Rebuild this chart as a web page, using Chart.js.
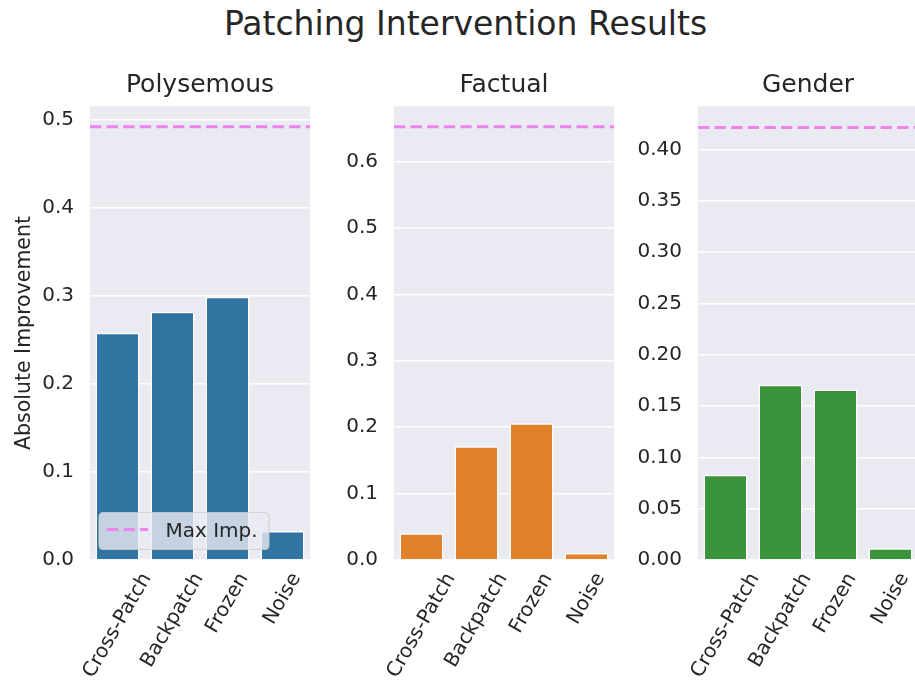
<!DOCTYPE html>
<html><head><meta charset="utf-8">
<script src="https://cdn.jsdelivr.net/npm/chart.js@4"></script>
<style>
html,body{margin:0;padding:0;background:#fff;overflow:hidden;width:915px;height:688px;position:relative}
#title{position:absolute;left:0;width:931px;top:5px;text-align:center;font-family:'DejaVu Sans';font-size:33px;line-height:38px;color:#262626;white-space:nowrap}
.pane{position:absolute;top:0;height:688px}
canvas{display:block}
</style></head><body>
<div id="title">Patching Intervention Results</div>
<div class="pane" style="left:0;width:320px"><canvas id="c1" width="320" height="688"></canvas></div>
<div class="pane" style="left:320px;width:300px"><canvas id="c2" width="300" height="688"></canvas></div>
<div class="pane" style="left:625px;width:300px"><canvas id="c3" width="300" height="688"></canvas></div>
<script>
const categories = ['Cross-Patch', 'Backpatch', 'Frozen', 'Noise'];
const panelTitles = ['Polysemous', 'Factual', 'Gender'];
const polysemousValues = [0.2583, 0.2822, 0.2992, 0.0330];
const factualValues = [0.0402, 0.1713, 0.2059, 0.0105];
const genderValues = [0.0830, 0.1708, 0.1662, 0.0115];
const maxImprovement = [0.4924, 0.6528, 0.4215];
const yMax = [0.5159, 0.684, 0.4425];
const polysemousTicks = [0.0, 0.1, 0.2, 0.3, 0.4, 0.5];
const polysemousTickLabels = ['0.0', '0.1', '0.2', '0.3', '0.4', '0.5'];
const factualTicks = [0.0, 0.1, 0.2, 0.3, 0.4, 0.5, 0.6];
const factualTickLabels = ['0.0', '0.1', '0.2', '0.3', '0.4', '0.5', '0.6'];
const genderTicks = [0.0, 0.05, 0.10, 0.15, 0.20, 0.25, 0.30, 0.35, 0.40];
const genderTickLabels = ['0.00', '0.05', '0.10', '0.15', '0.20', '0.25', '0.30', '0.35', '0.40'];
const yLabel = 'Absolute Improvement';
const legendLabel = 'Max Imp.';
const colors = ['#3274A1', '#E1812C', '#3A923A'];

const FONT = "'DejaVu Sans'";
const TXT = '#262626';

const panelPlugin = {
  id: 'panel',
  beforeDraw(chart) {
    const {ctx, chartArea: a} = chart;
    ctx.save();
    ctx.fillStyle = '#EAEAF2';
    ctx.fillRect(a.left, a.top, a.right - a.left, a.bottom - a.top);
    ctx.restore();
  },
  afterDatasetsDraw(chart, args, o) {
    const {ctx, chartArea: a} = chart;
    const ys = chart.scales.y, xs = chart.scales.x;
    ctx.save();
    // max line
    const my = ys.getPixelForValue(o.maxValue);
    ctx.strokeStyle = '#EE82EE';
    ctx.lineWidth = 3;
    ctx.setLineDash([11.3, 5.3]);
    ctx.beginPath();
    ctx.moveTo(a.left, my);
    ctx.lineTo(a.right, my);
    ctx.stroke();
    ctx.setLineDash([]);
    // subplot title
    ctx.fillStyle = TXT;
    ctx.font = '25px ' + FONT;
    ctx.textAlign = 'center';
    ctx.textBaseline = 'alphabetic';
    ctx.fillText(o.title, (a.left + a.right) / 2, 92);
    // x tick labels (rotated 60, bbox centered on tick)
    ctx.font = '20px ' + FONT;
    const H = 20 * 1.17;
    const s60 = Math.sin(Math.PI / 3), c60 = Math.cos(Math.PI / 3);
    chart.data.labels.forEach((lab, i) => {
      const x = xs.getPixelForValue(i);
      const L = ctx.measureText(lab).width;
      const bh = L * s60 + H * c60;
      const cy = a.bottom + 9 + bh / 2;
      ctx.save();
      ctx.translate(x, cy);
      ctx.rotate(-Math.PI / 3);
      ctx.textAlign = 'center';
      ctx.textBaseline = 'middle';
      ctx.fillText(lab, 0, 0);
      ctx.restore();
    });
    // y label
    if (o.ylabel) {
      ctx.save();
      ctx.translate(25, (a.top + a.bottom) / 2);
      ctx.rotate(-Math.PI / 2);
      ctx.font = '20.5px ' + FONT;
      ctx.textAlign = 'center';
      ctx.textBaseline = 'middle';
      ctx.fillText(o.ylabel, 0, 0);
      ctx.restore();
    }
    // legend
    if (o.legend) {
      const bx = 99, by = 512.5, bw = 170, bh2 = 37, r = 4;
      ctx.beginPath();
      ctx.moveTo(bx + r, by);
      ctx.arcTo(bx + bw, by, bx + bw, by + bh2, r);
      ctx.arcTo(bx + bw, by + bh2, bx, by + bh2, r);
      ctx.arcTo(bx, by + bh2, bx, by, r);
      ctx.arcTo(bx, by, bx + bw, by, r);
      ctx.closePath();
      ctx.fillStyle = 'rgba(234,234,242,0.8)';
      ctx.fill();
      ctx.strokeStyle = 'rgba(204,204,204,0.8)';
      ctx.lineWidth = 1.2;
      ctx.stroke();
      ctx.strokeStyle = '#EE82EE';
      ctx.lineWidth = 3;
      ctx.setLineDash([11.3, 5.3]);
      ctx.beginPath();
      ctx.moveTo(107, 529.5);
      ctx.lineTo(148, 529.5);
      ctx.stroke();
      ctx.setLineDash([]);
      ctx.fillStyle = TXT;
      ctx.font = '20px ' + FONT;
      ctx.textAlign = 'left';
      ctx.textBaseline = 'alphabetic';
      ctx.fillText(o.legendText, 165.5, 537);
    }
    ctx.restore();
  }
};

function makeChart(id, values, color, max, ticks, tickLabels, maxVal, title, yWidth, padRight, isFirst) {
  return new Chart(document.getElementById(id), {
    type: 'bar',
    data: {
      labels: categories,
      datasets: [{
        data: values,
        backgroundColor: color,
        borderColor: '#ffffff',
        borderWidth: 1.5,
        borderSkipped: 'start',
        barPercentage: 0.8,
        categoryPercentage: 1.0
      }]
    },
    options: {
      responsive: false,
      devicePixelRatio: 1,
      animation: false,
      events: [],
      layout: {padding: {top: 106, bottom: 128, left: 0, right: padRight}},
      plugins: {
        legend: {display: false},
        tooltip: {enabled: false},
        title: {display: false},
        panel: {
          maxValue: maxVal,
          title: title,
          ylabel: isFirst ? yLabel : null,
          legend: isFirst,
          legendText: legendLabel
        }
      },
      scales: {
        x: {
          display: false,
          offset: true,
          grid: {display: false}
        },
        y: {
          min: 0,
          max: max,
          border: {display: false},
          grid: {color: '#ffffff', lineWidth: 1.6, drawTicks: false},
          afterBuildTicks: (s) => { s.ticks = ticks.map(v => ({value: v})); },
          afterFit: (s) => { s.width = yWidth; },
          ticks: {
            padding: 16,
            color: TXT,
            font: {family: FONT, size: 20},
            callback: (v, i) => tickLabels[i]
          }
        }
      }
    },
    plugins: [panelPlugin]
  });
}

makeChart('c1', polysemousValues, colors[0], yMax[0], polysemousTicks, polysemousTickLabels, maxImprovement[0], panelTitles[0], 90, 10, true);
makeChart('c2', factualValues, colors[1], yMax[1], factualTicks, factualTickLabels, maxImprovement[1], panelTitles[1], 74, 6, false);
makeChart('c3', genderValues, colors[2], yMax[2], genderTicks, genderTickLabels, maxImprovement[2], panelTitles[2], 73, 7, false);
</script>
</body></html>
